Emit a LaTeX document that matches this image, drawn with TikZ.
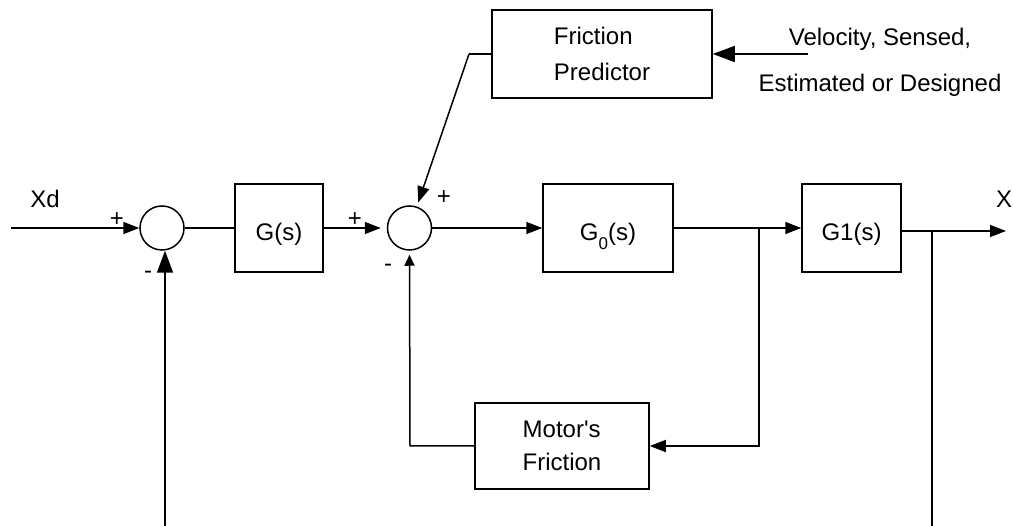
\documentclass[tikz,border=0pt]{standalone}
\usepackage{fontspec}
\setmainfont{Liberation Sans}[Ligatures=TeXOff]
\usetikzlibrary{arrows.meta}
\begin{document}
\begin{tikzpicture}[x=1pt,y=-1pt,
  line width=1.5pt,
  txt/.style={font=\fontsize{24}{28}\selectfont, inner sep=0pt},
  blk/.style={draw, rectangle, inner sep=0pt, font=\fontsize{24}{28}\selectfont, text height=29pt, text depth=3pt},
  mblk/.style={draw, rectangle, inner sep=0pt, align=left},
  sumj/.style={draw, circle, minimum size=44pt, inner sep=0pt},
  arr/.style={-{Triangle[length=16pt,width=12pt]}},
  bigarr/.style={-{Triangle[length=22pt,width=16pt]}},
  smallarr/.style={-{Triangle[length=11pt,width=10pt]}}]
\useasboundingbox (0,0) rectangle (1013,526);
% blocks
\node[sumj] (s1) at (162,228) {};
\node[sumj] (s2) at (409.5,228) {};
\node[blk, minimum width=88pt, minimum height=88pt] (g) at (279,228) {G(s)};
\node[blk, minimum width=130pt, minimum height=88pt] (g0) at (608,228) {G\raisebox{-9pt}{\fontsize{17}{17}\selectfont 0}(s)};
\node[blk, minimum width=99pt, minimum height=88pt] (g1) at (851.5,228) {G1(s)};
\node[mblk, minimum width=220pt, minimum height=88pt, font=\fontsize{24}{36.6}\selectfont] (fp) at (602,54) {Friction\\Predictor};
\node[mblk, minimum width=174pt, minimum height=86pt, font=\fontsize{24}{33.3}\selectfont] (mf) at (562,446) {Motor's\\Friction};
% texts
\node[txt, align=center, font=\fontsize{24}{45.7}\selectfont] (vel) at (880,62.6) {Velocity, Sensed,\\Estimated or Designed};
\node[txt] (xd) at (45,199) {Xd};
\node[txt] (xo) at (1004,199) {X};
\node[txt] (p1) at (117,220) {+};
\node[txt] (m1) at (148,275) {-};
\node[txt] (p2) at (355,220) {+};
\node[txt] (m2) at (388,268) {-};
\node[txt] (p3) at (444,198) {+};
% coordinates
\coordinate (xin) at (11,228);
\coordinate (b1) at (759,228);
\coordinate (b2) at (932,231);
\coordinate (xout) at (1006,231);
\coordinate (bot1) at (165,526);
\coordinate (bot2) at (932,526);
\coordinate (fk) at (469,54);
\coordinate (vin) at (808,54);
\coordinate (c1) at (759,446);
\coordinate (c2) at (410,446);
% connectors
\draw[arr] (xin) -- (s1.west);
\draw (s1.east) -- (g.west);
\draw[arr, shorten >=6pt] (g.east) -- (s2.west);
\draw[arr] (s2.east) -- (g0.west);
\draw (g0.east) -- (b1);
\draw[arr] (b1) -- (g1.west);
\draw[arr] (g1.east |- b2) -- (xout);
\draw (b2) -- (bot2);
\draw[bigarr] (bot1) -- (bot1 |- s1.south);
\draw[arr] (b1) -- (c1) -- (mf.east);
\draw[smallarr, shorten >=4pt] (mf.west) -- (c2) -- (s2.south);
\draw (fp.west) -- (fk);
\draw[arr, shorten >=27pt] (fk) -- (s2.center);
\draw[bigarr] (vin) -- (fp.east);
\end{tikzpicture}
\end{document}
